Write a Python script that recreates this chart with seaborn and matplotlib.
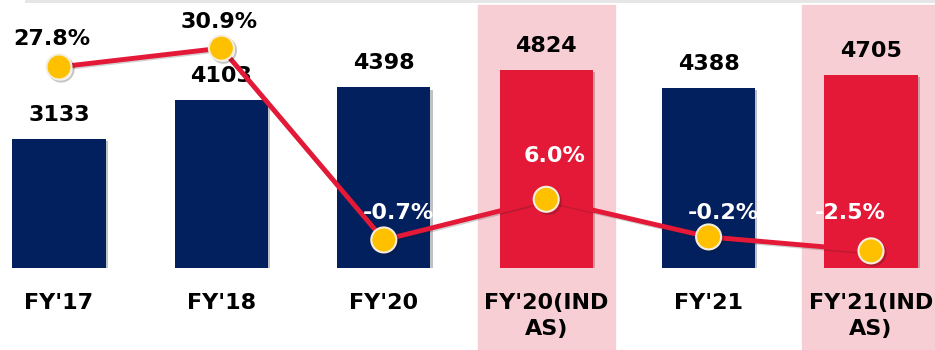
import matplotlib
matplotlib.use("Agg")
import matplotlib.pyplot as plt
import matplotlib.patheffects as pe
from matplotlib.patches import Rectangle
import seaborn as sns
import pandas as pd

# Revenue and growth by financial year
categories = ["FY'17", "FY'18", "FY'20", "FY'20(IND\nAS)", "FY'21", "FY'21(IND\nAS)"]
revenue = [3133, 4103, 4398, 4824, 4388, 4705]
growth = [27.8, 30.9, -0.7, 6.0, -0.2, -2.5]
ind_as = [False, False, False, True, False, True]

NAVY = "#021F5E"
RED = "#E31937"
PINK = "#F8CED5"
GOLD = "#FFC000"

df = pd.DataFrame({
    "year": categories,
    "revenue": revenue,
    "growth": growth,
    "basis": ["IND AS" if f else "IGAAP" for f in ind_as],
})

sns.set_theme(style="white")
plt.rcParams["font.family"] = ["DejaVu Sans"]

W, H = 935, 350
fig = plt.figure(figsize=(W / 100, H / 100), dpi=100)
base_px = 268
ax = fig.add_axes([0, (H - base_px) / H, 1, base_px / H])

# faint strip along the top edge
fig.patches.append(Rectangle((25 / W, 1 - 3 / H), 1, 3 / H, transform=fig.transFigure,
                             facecolor="#E6E6E6", edgecolor="none", zorder=0))

sns.barplot(data=df, x="year", y="revenue", hue="basis",
            palette={"IGAAP": NAVY, "IND AS": RED}, dodge=False,
            width=0.575, legend=False, ax=ax, zorder=2, saturation=1,
            linewidth=0, edgecolor="none")

for bar in ax.patches:
    bar.set_linewidth(0)
    bar.set_path_effects([pe.SimplePatchShadow(offset=(1.5, -1.5), alpha=0.25), pe.Normal()])

# highlight bands behind the IND AS columns
for i, flag in enumerate(ind_as):
    if flag:
        ax.axvspan(i - 0.423, i + 0.423, ymin=-(H - base_px) / base_px,
                   ymax=(base_px - 5) / base_px, color=PINK, zorder=0, clip_on=False)

px_per_pt = 100 / 72
for i, v in enumerate(revenue):
    ax.annotate(f"{v}", (i, v), xytext=(0, 24 / px_per_pt), textcoords="offset points",
                ha="center", va="center", fontsize=16, fontweight="bold", color="black",
                zorder=5)

ax.set_xlim(-59 / 162.4, 5 + (W - 871) / 162.4)
ax.set_ylim(0, base_px / 0.04105)
ax.set_xlabel("")
ax.set_ylabel("")
ax.set_yticks([])
ax.set_xticks(range(len(categories)))
ax.set_xticklabels(categories, fontsize=16, fontweight="bold", color="black",
                   linespacing=1.4)
ax.tick_params(axis="x", length=0, pad=18)
for s in ax.spines.values():
    s.set_visible(False)
ax.set_facecolor("none")

# growth line on a secondary axis
ax2 = ax.twinx()
sns.lineplot(x=list(range(len(categories))), y=growth, ax=ax2, color=RED,
             linewidth=3.5, zorder=3)
ax2.plot(range(len(categories)), growth, linestyle="none", marker="o", markersize=18,
         markerfacecolor=GOLD, markeredgecolor="#F3EEDD", markeredgewidth=1.5, zorder=4,
         path_effects=[pe.SimpleLineShadow(offset=(1.5, -1.5), alpha=0.25), pe.Normal()])
ax2.lines[0].set_path_effects([pe.SimpleLineShadow(offset=(1, -1), alpha=0.2), pe.Normal()])

offsets = [(-7, 28), (-2, 26), (15, 27), (8, 43), (15, 24), (-21, 38)]
text_colors = ["black", "black", "white", "white", "white", "white"]
for i, v in enumerate(growth):
    dx, dy = offsets[i]
    ax2.annotate(f"{v:.1f}%", (i, v), xytext=(dx / px_per_pt, dy / px_per_pt),
                 textcoords="offset points", ha="center", va="center", fontsize=16,
                 fontweight="bold", color=text_colors[i], zorder=6)

zero_px = 235.7
ppu = 6.07
ax2.set_ylim((zero_px - base_px) / ppu, zero_px / ppu)
ax2.set_xlim(ax.get_xlim())
ax2.set_yticks([])
ax2.set_ylabel("")
for s in ax2.spines.values():
    s.set_visible(False)

fig.savefig("out.png", dpi=100, facecolor="white")
